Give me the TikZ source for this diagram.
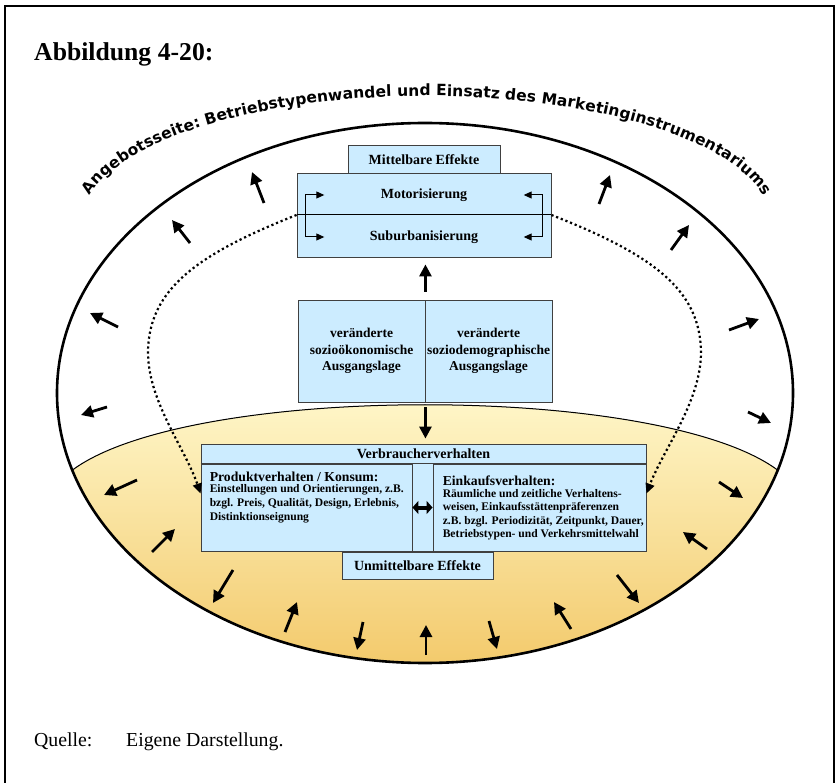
\documentclass[tikz,border=0pt]{standalone}
\usepackage{fontspec}
\setmainfont{Liberation Serif}
\newfontfamily\arcfont{DejaVu Sans}
\usetikzlibrary{arrows.meta,positioning,decorations.text}

\definecolor{box blue}{RGB}{204,236,255}
\colorlet{box edge}{black!75}
\definecolor{sand light}{RGB}{255,249,206}
\definecolor{sand dark}{RGB}{243,202,108}
\tikzset{
  box/.style={draw=box edge, fill=box blue, line width=0.9pt, inner sep=0pt},
  boxhead/.style={inner sep=0pt, font=\bfseries\fontsize{14}{16}\selectfont},
  subhead/.style={inner sep=0pt, font=\bfseries\fontsize{13.7}{16}\selectfont},
  boxsmall/.style={inner sep=0pt, align=left, font=\bfseries\fontsize{11.6}{13.6}\selectfont},
  lage/.style={box, align=center, minimum width=127pt, minimum height=102pt, font=\bfseries\fontsize{13.5}{16.5}\selectfont}
  }
\tikzstyle{fatarrow} = [line width=2.8pt, -{Triangle[width=12pt,length=12pt]}]
\tikzstyle{dblarrow} = [line width=4pt, {Triangle[width=13pt,length=6pt]}-{Triangle[width=13pt,length=6pt]}]
\tikzstyle{bracket} = [line width=1pt, {Triangle[width=7pt,length=8pt]}-{Triangle[width=7pt,length=8pt]}]
\tikzstyle{dotpath} = [line width=2.2pt, dash pattern=on 2.2pt off 2.8pt, -{Triangle[width=9pt,length=10pt]}]

\begin{document}
\begin{tikzpicture}[x=1pt,y=-1pt]
  \useasboundingbox (0,0) rectangle (838,783);
  \draw[line width=1.6pt] (5,783) -- (5,6) -- (834,6) -- (834,783);

  \node[anchor=base west, inner sep=0pt, font=\bfseries\fontsize{25.7}{30}\selectfont] (title) at (34,61) {Abbildung 4-20:};

  % lower half of the ellipse
  \begin{scope}
    \clip (425,393) ellipse [x radius=368, y radius=270];
    \fill[top color=sand light, bottom color=sand dark] (72.5,470) .. controls (190,383) and (660,383) .. (777.5,470) -- (800,665) -- (50,665) -- cycle;
  \end{scope}
  \draw[line width=1pt] (72.5,470) .. controls (190,383) and (660,383) .. (777.5,470);
  \draw[line width=2.6pt] (425,393) ellipse [x radius=368, y radius=270];

  \path[decorate, decoration={text along path, text align=fit to path,
      text={|\arcfont\bfseries\fontsize{15.5}{15.5}\selectfont|Angebotsseite: Betriebstypenwandel und Einsatz des Marketinginstrumentariums}}]
    (90,195.7) arc[start angle=192.4, end angle=347.6, x radius=345, y radius=127];

  % boxes
  \node[box, boxhead, minimum width=152pt, minimum height=28pt] (mittel) at (424,159.5) {Mittelbare Effekte};
  \node[box, minimum width=254pt, minimum height=84pt] (motorbox) at (424,215) {};
  \draw[line width=1pt] (motorbox.west) -- (motorbox.east);
  \node[boxhead, minimum width=199pt] (moto) at (424,195) {Motorisierung};
  \node[boxhead, minimum width=199pt] (subu) at (424,237) {Suburbanisierung};
  \draw[bracket] (moto.west) -- ++(-19,0) |- (subu.west);
  \draw[bracket] (moto.east) -- ++(19,0) |- (subu.east);

  \node[lage] (soek) at (361.5,351) {veränderte\\sozioökonomische\\Ausgangslage};
  \node[lage] (sodem) at (488.5,351) {veränderte\\soziodemographische\\Ausgangslage};

  \node[box, minimum width=445pt, minimum height=107pt] (verb) at (423.5,497.5) {};
  \node[boxhead] (verbhead) at (423.5,454) {Verbraucherverhalten};
  \node[box, minimum width=211pt, minimum height=87pt] (prod) at (306.5,507.5) {};
  \node[box, minimum width=213pt, minimum height=87pt] (eink) at (539.5,507.5) {};
  \draw[line width=0.9pt, box edge] (prod.north west) -- (eink.north east);
  \node[subhead, below right=8pt and 9pt of prod.north west] (prodhead) {Produktverhalten / Konsum:};
  \node[boxsmall, below right=3pt and 0pt of prodhead.south west] (prodtxt) {Einstellungen und Orientierungen, z.B.\\bzgl. Preis, Qualität, Design, Erlebnis,\\Distinktionseignung};
  \node[subhead, below right=12pt and 10pt of eink.north west] (einkhead) {Einkaufsverhalten:};
  \node[boxsmall, below right=3pt and 0pt of einkhead.south west] (einktxt) {Räumliche und zeitliche Verhaltens-\\weisen, Einkaufsstättenpräferenzen\\z.B. bzgl. Periodizität, Zeitpunkt, Dauer,\\Betriebstypen- und Verkehrsmittelwahl};
  \node[box, boxhead, minimum width=151pt, minimum height=27pt] (unmit) at (417.5,565.5) {Unmittelbare Effekte};

  \draw[dotpath] (motorbox.west) .. controls (195,255) and (150,290) .. (148,350) .. controls (147,400) and (185,448) .. ([yshift=14pt]prod.west);
  \draw[dotpath] (motorbox.east) .. controls (654,255) and (699,290) .. (701,350) .. controls (702,400) and (664,448) .. ([yshift=14pt]eink.east);

  \draw[fatarrow, shorten <=8pt, shorten >=7pt] (soek.north east) -- (soek.north east |- motorbox.south);
  \draw[fatarrow, shorten <=5pt, shorten >=5pt] (soek.south east) -- (soek.south east |- verb.north);
  \draw[dblarrow] (prod.east) -- (eink.west);

  % arrows round the ellipse
  \foreach \tail/\head in {{(190,243)/(172,220)}, {(264,203)/(252,172)}, {(118,327)/(90,313)}, {(107,407)/(81,415)},
      {(599,204)/(610,175)}, {(671,250)/(689,225)}, {(729,330)/(759,319)}, {(748,412)/(771,423)},
      {(137,480)/(104,495)}, {(152,552)/(175,529)}, {(233,570)/(213,603)}, {(285,632)/(297,602)},
      {(363,622)/(357,650)}, {(426,655)/(426,625)}, {(489,621)/(497,649)}, {(571,629)/(554,602)},
      {(617,575)/(639,603)}, {(707,549)/(683,532)}, {(719,482)/(743,498)}} {
    \draw[fatarrow] \tail -- \head;
  }

  \node[anchor=base west, inner sep=0pt, font=\fontsize{19.8}{23}\selectfont] (quelle) at (34,746) {Quelle:};
  \node[anchor=base west, inner sep=0pt, font=\fontsize{19.8}{23}\selectfont] (eigene) at (126,746) {Eigene Darstellung.};
\end{tikzpicture}
\end{document}
